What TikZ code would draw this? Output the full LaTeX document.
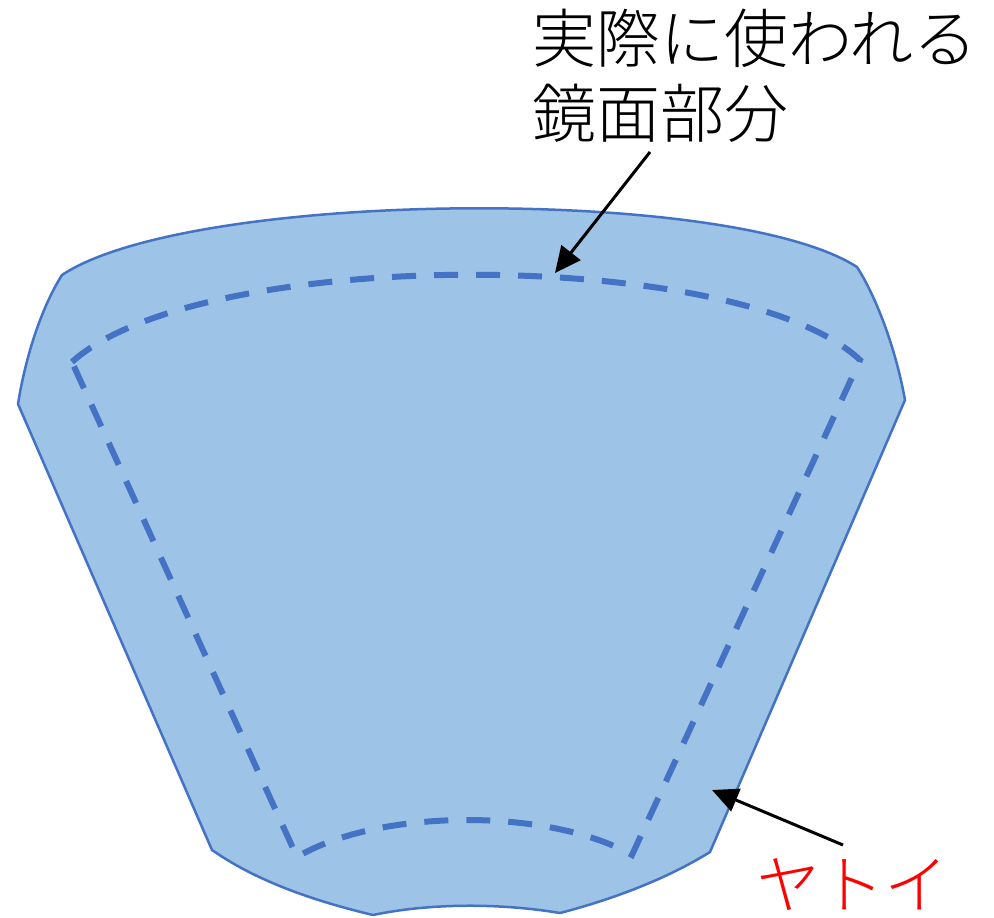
\documentclass[tikz,border=0pt]{standalone}
\usepackage{fontspec}
\newfontfamily\jp{Noto Sans CJK JP}[UprightFont={* Light}]
\usetikzlibrary{arrows.meta}
\definecolor{fillblue}{HTML}{9DC3E6}
\definecolor{edgeblue}{HTML}{4472C4}
\tikzset{
  mirror/.style={fill=fillblue, draw=edgeblue, line width=2.5pt, line join=round},
  usedpart/.style={draw=edgeblue, line width=6pt, dash pattern=on 24pt off 18pt},
  pointer/.style={draw=black, line width=3pt, -{Triangle[length=26pt,width=24pt]}},
  label/.style={font=\jp\fontsize{64}{75}\selectfont, inner sep=0pt}
}
\begin{document}
\begin{tikzpicture}[x=1pt,y=-1pt]
\useasboundingbox (0,0) rectangle (994,918);
% outer shape
\path[mirror] (62,275) .. controls (190,190) and (730,185) .. (857,267)
  .. controls (875,295) and (895,345) .. (905,400)
  -- (710,852)
  .. controls (665,880) and (610,900) .. (560,913)
  .. controls (500,903) and (430,903) .. (373,915)
  .. controls (310,900) and (255,880) .. (212,850)
  -- (18,404)
  .. controls (25,360) and (40,310) .. cycle;
% dashed inner region
\draw[usedpart] (72,362) .. controls (200,246) and (740,246) .. (860,360)
  -- (632,855)
  .. controls (550,808) and (380,808) .. (297,857)
  -- cycle;
% labels
\node[label, align=left] (top) at (755,76) {実際に使われる\\鏡面部分};
\node[label, text=red] (yatoi) at (852,885) {ヤトイ};
\coordinate (t1) at (650,152);
\coordinate (h1) at (555,273);
\coordinate (t2) at (843,845);
\coordinate (h2) at (712,790);
\draw[pointer] (t1) -- (h1);
\draw[pointer] (t2) -- (h2);
\end{tikzpicture}
\end{document}
